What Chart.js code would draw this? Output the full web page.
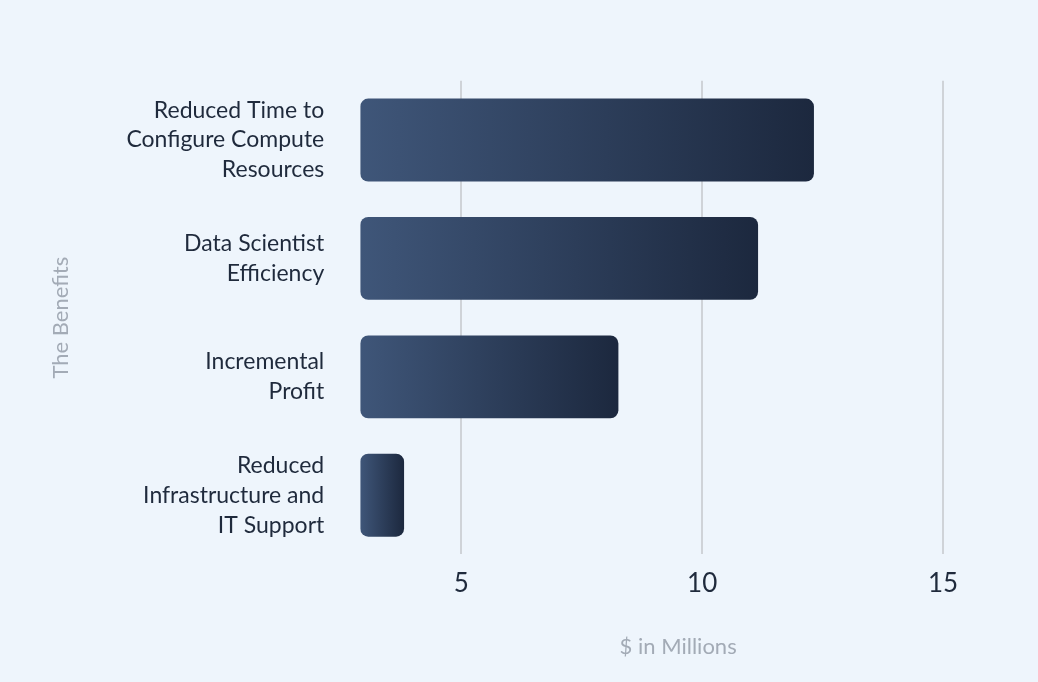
<!DOCTYPE html>
<html><head><meta charset="utf-8">
<script src="https://cdn.jsdelivr.net/npm/chart.js@4/dist/chart.umd.min.js"></script>
<style>html,body{margin:0;padding:0;background:#eef5fc;}#w{width:1038px;height:682px;}</style>
</head><body><div id="w"><canvas id="c"></canvas></div>
<script>
const categories = [["Reduced Time to","Configure Compute","Resources"],["Data Scientist","Efficiency"],["Incremental","Profit"],["Reduced","Infrastructure and","IT Support"]];
const values = [12.32, 11.16, 8.26, 3.81];
const axisMin = 2.9;
const axisMax = 16.1;
const tickValues = [5, 10, 15];
Chart.defaults.font.family = "Lato";
new Chart(document.getElementById('c'), {
  type: 'bar',
  data: { labels: categories, datasets: [{
    data: values.map(v => [axisMin, v]),
    borderRadius: 8, borderSkipped: false,
    barPercentage: 0.7, categoryPercentage: 1.0,
    backgroundColor: (ctx) => {
      const ch = ctx.chart; const xs = ch.scales && ch.scales.x;
      if (!ch.chartArea || !xs || ctx.dataIndex === undefined) return '#2c3b58';
      const x0 = xs.getPixelForValue(axisMin), x1 = xs.getPixelForValue(values[ctx.dataIndex]);
      if (!isFinite(x0) || !isFinite(x1) || x0 === x1) return '#2c3b58';
      const g = ch.ctx.createLinearGradient(x0, 0, x1, 0);
      g.addColorStop(0, '#3f5679'); g.addColorStop(1, '#1c283e');
      return g;
    }
  }]},
  options: {
    indexAxis: 'y', responsive: true, maintainAspectRatio: false, animation: false,
    layout: { padding: { left: 44, right: 42, top: 4, bottom: 18 } },
    plugins: { legend: { display: false }, tooltip: { enabled: false } },
    scales: {
      x: { min: axisMin, max: axisMax,
        afterBuildTicks: (s) => { s.ticks = tickValues.map(v => ({ value: v })); },
        grid: { color: '#cfd3d8', lineWidth: 2, drawTicks: false },
        border: { display: false },
        ticks: { color: '#1f2a3c', font: { size: 26 }, padding: 14 },
        title: { display: true, text: '$ in Millions', color: '#a3abb6', font: { size: 22 }, padding: { top: 20 } } },
      y: { grid: { display: false, drawTicks: false }, border: { display: false },
        ticks: { color: '#1f2a3c', font: { size: 23, lineHeight: 1.3 }, padding: 36 },
        title: { display: true, text: 'The Benefits', color: '#a3abb6', font: { size: 22 }, padding: { bottom: 16 } } }
    }
  }
});
</script></body></html>
